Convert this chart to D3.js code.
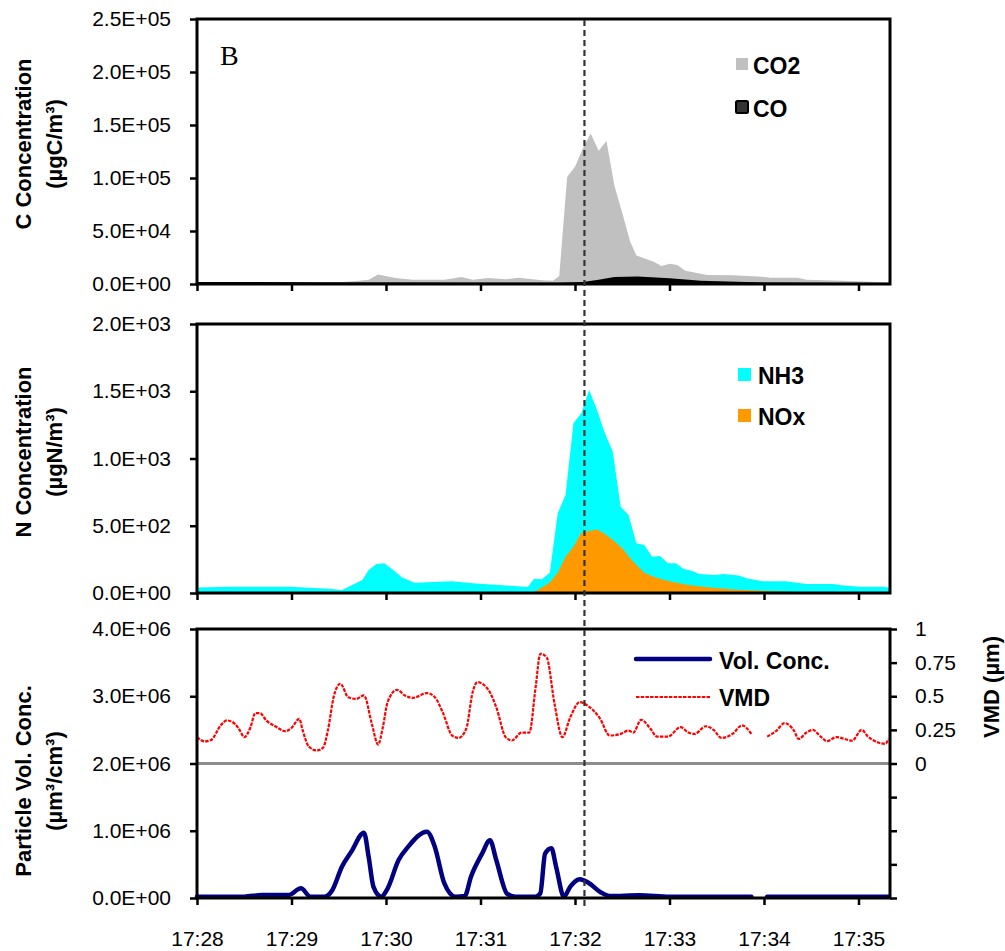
<!DOCTYPE html>
<html>
<head>
<meta charset="utf-8">
<script src="https://cdn.jsdelivr.net/npm/d3@7"></script>
<style>
  html, body { margin: 0; padding: 0; background: #fff; }
  svg { display: block; }
  text { font-family: "Liberation Sans", Arial, sans-serif; }
</style>
</head>
<body>
<svg id="chart" width="1005" height="951"></svg>
<script>
// ---------------- DATA (seconds after 17:28:00) ----------------
const tickTimes = [0, 60, 120, 180, 240, 300, 360, 420];
const tickLabels = ["17:28", "17:29", "17:30", "17:31", "17:32", "17:33", "17:34", "17:35"];
const markerTime = 246;

const co2Time = [0, 84, 100, 109, 115, 126, 137, 157, 168, 175, 185, 196, 204, 219, 226, 230, 235, 240, 245, 250, 255, 260, 265, 270, 275, 279, 290, 295, 300, 305, 310, 324, 340, 359, 364, 381, 387, 410, 440];
const co2Values = [1000, 1200, 2500, 4000, 9000, 5600, 4000, 4000, 6600, 4000, 5600, 4500, 6000, 3500, 3000, 7500, 101000, 110700, 128000, 142000, 125800, 135000, 93000, 67000, 40000, 27000, 21000, 17000, 19000, 18000, 12600, 8500, 8200, 6900, 6000, 6000, 4000, 3000, 1500];

const coTime = [0, 100, 230, 245, 255, 265, 280, 300, 320, 360, 400, 440];
const coValues = [2000, 1500, 1200, 2000, 4000, 6500, 7000, 5500, 3000, 1500, 1200, 1000];

const nh3Time = [0, 21, 59, 84, 92, 105, 109, 114, 119, 126, 130, 138, 162, 175, 208, 210, 214, 219, 224, 229, 234, 239, 244, 249, 254, 259, 264, 269, 274, 279, 284, 289, 294, 299, 304, 309, 314, 319, 329, 334, 344, 349, 359, 374, 387, 404, 409, 421, 436, 440];
const nh3Values = [40, 47, 47, 32, 22, 97, 171, 216, 221, 158, 117, 77, 87, 72, 47, 44, 106, 102, 151, 592, 729, 1262, 1336, 1509, 1361, 1187, 1051, 642, 580, 370, 357, 270, 275, 221, 221, 178, 166, 141, 134, 141, 131, 109, 87, 87, 67, 67, 57, 47, 47, 37];

const noxTime = [0, 100, 115, 140, 210, 214, 224, 229, 234, 239, 244, 250, 254, 259, 264, 270, 275, 279, 284, 290, 295, 300, 311, 324, 343, 364, 385, 440];
const noxValues = [0, 2, 6, 4, 2, 5, 79, 151, 270, 344, 448, 463, 473, 439, 394, 332, 258, 208, 151, 121, 102, 87, 62, 42, 25, 15, 5, 2];

const vmdTime = [0, 5, 9, 15, 19, 24, 27, 30, 34, 37, 40, 44, 50, 56, 60, 65, 67, 71, 76, 80, 83, 87, 91, 96, 101, 106, 111, 115, 118, 121, 127, 132, 137, 146, 151, 156, 162, 166, 171, 175, 178, 185, 190, 196, 200, 206, 211, 215, 218, 222, 227, 232, 237, 243, 248, 256, 262, 269, 274, 277, 282, 288, 292, 299, 307, 312, 316, 323, 328, 333, 340, 346, 352, 357, 362, 368, 373, 379, 382, 387, 391, 396, 400, 406, 416, 422, 426, 432, 437, 439];
const vmdValues = [0.196, 0.164, 0.175, 0.283, 0.32, 0.295, 0.25, 0.196, 0.27, 0.374, 0.374, 0.32, 0.275, 0.24, 0.265, 0.332, 0.25, 0.126, 0.097, 0.117, 0.24, 0.506, 0.593, 0.493, 0.48, 0.506, 0.295, 0.141, 0.27, 0.456, 0.548, 0.506, 0.488, 0.523, 0.493, 0.381, 0.208, 0.19, 0.26, 0.53, 0.605, 0.548, 0.419, 0.196, 0.171, 0.23, 0.23, 0.567, 0.816, 0.79, 0.444, 0.196, 0.344, 0.456, 0.43, 0.332, 0.208, 0.22, 0.245, 0.23, 0.325, 0.257, 0.2, 0.2, 0.27, 0.23, 0.22, 0.277, 0.25, 0.19, 0.22, 0.283, 0.22, null, 0.2, 0.245, 0.3, 0.245, 0.183, 0.23, 0.25, 0.2, 0.166, 0.196, 0.17, 0.25, 0.2, 0.158, 0.146, 0.183];

const volTime = [0, 30, 41, 58, 66, 72, 81, 86, 92, 98, 106, 109, 112, 117, 121, 128, 134, 146, 151, 157, 164, 170, 174, 181, 186, 190, 197, 202, 215, 218, 221, 225, 228, 233, 237, 243, 249, 256, 262, 281, 300, 352, 357, 362, 439];
const volValues = [20000, 20000, 45000, 45000, 144000, 20000, 20000, 120000, 465000, 690000, 970000, 610000, 170000, 20000, 140000, 565000, 760000, 986000, 760000, 220000, 20000, 30000, 320000, 660000, 860000, 565000, 60000, 20000, 20000, 70000, 660000, 740000, 465000, 20000, 170000, 280000, 220000, 90000, 30000, 40000, 20000, 20000, null, 20000, 20000];

const cTicks = [0, 50000, 100000, 150000, 200000, 250000];
const nTicks = [0, 500, 1000, 1500, 2000];
const pTicks = [0, 1000000, 2000000, 3000000, 4000000];
const vmdTicks = [-1, -0.75, -0.5, -0.25, 0, 0.25, 0.5, 0.75, 1];
const vmdTickLabels = ["", "", "", "", "0", "0.25", "0.5", "0.75", "1"];

// ---------------- LAYOUT ----------------
const svg = d3.select("#chart");
const X0 = 197, X1 = 890;
const TICK_FS = 21, TITLE_FS = 22, LEG_FS = 23;
const panels = [
  { top: 19, bottom: 284 },
  { top: 324, bottom: 593 },
  { top: 629, bottom: 898 }
];
const x = d3.scaleLinear().domain([0, 440]).range([X0, X1]);

function fmtE(v) {
  if (v === 0) return "0.0E+00";
  const e = Math.floor(Math.log10(v) + 1e-9);
  const m = v / Math.pow(10, e);
  return m.toFixed(1) + "E+" + String(e).padStart(2, "0");
}

const zip = (t, v) => t.map((d, i) => ({ t: d, v: v[i] }));

function styleAxis(g, fs) {
  g.select(".domain").remove();
  g.selectAll(".tick line").attr("stroke", "#000").attr("stroke-width", 2.5);
  g.selectAll(".tick text").attr("fill", "#000").style("font-size", fs + "px")
    .style("font-family", '"Liberation Sans", Arial, sans-serif');
}

function drawLeftAxis(y, ticks) {
  const g = svg.append("g").attr("transform", `translate(${X0},0)`)
    .call(d3.axisLeft(y).tickValues(ticks).tickFormat(fmtE).tickSize(7).tickPadding(19));
  styleAxis(g, TICK_FS);
}

function drawXAxis(p, labels) {
  const g = svg.append("g").attr("transform", `translate(0,${p.bottom})`)
    .call(d3.axisBottom(x).tickValues(tickTimes)
      .tickFormat((d, i) => labels ? tickLabels[i] : "").tickSize(7).tickPadding(26));
  styleAxis(g, TICK_FS);
}

function drawFrame(p) {
  svg.append("rect").attr("x", X0).attr("y", p.top)
    .attr("width", X1 - X0).attr("height", p.bottom - p.top)
    .attr("fill", "none").attr("stroke", "#000").attr("stroke-width", 3);
}

function yTitle(lines, cx, cy) {
  const t = svg.append("text")
    .attr("transform", `translate(${cx},${cy}) rotate(-90)`)
    .attr("text-anchor", "middle")
    .style("font-size", TITLE_FS + "px").style("font-weight", "bold");
  lines.forEach((l, i) => {
    t.append("tspan").attr("x", 0).attr("dy", i === 0 ? 0 : 31).text(l);
  });
}

// ---------------- PANEL 1: Carbon ----------------
{
  const p = panels[0];
  const y = d3.scaleLinear().domain([0, 250000]).range([p.bottom, p.top]);
  const area = d3.area().x(d => x(d.t)).y0(y(0)).y1(d => y(d.v));
  svg.append("path").datum(zip(co2Time, co2Values)).attr("d", area).attr("fill", "#c0c0c0");
  svg.append("path").datum(zip(coTime, coValues)).attr("d", area).attr("fill", "#000");
  drawFrame(p);
  drawLeftAxis(y, cTicks);
  drawXAxis(p, false);
  yTitle(["C Concentration", "(\u00b5gC/m\u00b3)"], 31, 144);
  svg.append("text").attr("x", 220).attr("y", 65)
    .style("font-family", '"Liberation Serif", "Times New Roman", serif')
    .style("font-size", "28px").text("B");
  const lg = [
    { name: "CO2", fill: "#c0c0c0", stroke: "none", y: 58, by: 74 },
    { name: "CO", fill: "#333", stroke: "#000", y: 101, by: 117 }
  ];
  lg.forEach(d => {
    svg.append("rect").attr("x", 736).attr("y", d.y).attr("width", 12).attr("height", 12)
      .attr("fill", d.fill).attr("stroke", d.stroke).attr("stroke-width", 2).attr("rx", d.stroke === "none" ? 0 : 1.5);
    svg.append("text").attr("x", 753).attr("y", d.by).style("font-size", LEG_FS + "px")
      .style("font-weight", "bold").text(d.name);
  });
}

// ---------------- PANEL 2: Nitrogen ----------------
{
  const p = panels[1];
  const y = d3.scaleLinear().domain([0, 2000]).range([p.bottom, p.top]);
  const area = d3.area().x(d => x(d.t)).y0(y(0)).y1(d => y(d.v));
  svg.append("path").datum(zip(nh3Time, nh3Values)).attr("d", area).attr("fill", "#00ffff");
  svg.append("path").datum(zip(noxTime, noxValues)).attr("d", area).attr("fill", "#ff9900");
  drawFrame(p);
  drawLeftAxis(y, nTicks);
  drawXAxis(p, false);
  yTitle(["N Concentration", "(\u00b5gN/m\u00b3)"], 31, 452);
  const lg = [
    { name: "NH3", fill: "#00ffff", y: 368, by: 384 },
    { name: "NOx", fill: "#ff9900", y: 409, by: 425 }
  ];
  lg.forEach(d => {
    svg.append("rect").attr("x", 738).attr("y", d.y).attr("width", 13).attr("height", 13).attr("fill", d.fill);
    svg.append("text").attr("x", 758).attr("y", d.by).style("font-size", LEG_FS + "px")
      .style("font-weight", "bold").text(d.name);
  });
}

// ---------------- PANEL 3: Particles ----------------
{
  const p = panels[2];
  const y = d3.scaleLinear().domain([0, 4000000]).range([p.bottom, p.top]);
  const yR = d3.scaleLinear().domain([-1, 1]).range([p.bottom, p.top]);
  svg.append("line").attr("x1", X0).attr("x2", X1).attr("y1", yR(0)).attr("y2", yR(0))
    .attr("stroke", "#8c8c8c").attr("stroke-width", 3);
  const vmdLine = d3.line().defined(d => d.v !== null).x(d => x(d.t)).y(d => yR(d.v))
    .curve(d3.curveMonotoneX);
  svg.append("path").datum(zip(vmdTime, vmdValues)).attr("d", vmdLine)
    .attr("fill", "none").attr("stroke", "#ff0000").attr("stroke-width", 2.2)
    .attr("stroke-dasharray", "3.5,1.2");
  const volLine = d3.line().defined(d => d.v !== null).x(d => x(d.t)).y(d => y(d.v))
    .curve(d3.curveMonotoneX);
  svg.append("path").datum(zip(volTime, volValues)).attr("d", volLine)
    .attr("fill", "none").attr("stroke", "#000080").attr("stroke-width", 4.5)
    .attr("stroke-linejoin", "round").attr("stroke-linecap", "round");
  drawFrame(p);
  drawLeftAxis(y, pTicks);
  drawXAxis(p, true);
  const gR = svg.append("g").attr("transform", `translate(${X1},0)`)
    .call(d3.axisRight(yR).tickValues(vmdTicks).tickFormat((d, i) => vmdTickLabels[i])
      .tickSize(7).tickPadding(18));
  styleAxis(gR, TICK_FS);
  yTitle(["Particle Vol. Conc.", "(\u00b5m\u00b3/cm\u00b3)"], 31, 781);
  svg.append("text").attr("transform", `translate(999,687) rotate(-90)`)
    .attr("text-anchor", "middle").style("font-size", TITLE_FS + "px").style("font-weight", "bold")
    .text("VMD (\u00b5m)");
  const lg = [
    { name: "Vol. Conc.", color: "#000080", w: 4.5, dash: null, y: 659, by: 669 },
    { name: "VMD", color: "#ff0000", w: 2.2, dash: "3.5,1.2", y: 697, by: 706 }
  ];
  lg.forEach(d => {
    svg.append("line").attr("x1", 636).attr("x2", 710).attr("y1", d.y).attr("y2", d.y)
      .attr("stroke", d.color).attr("stroke-width", d.w).attr("stroke-linecap", d.dash ? "butt" : "round")
      .attr("stroke-dasharray", d.dash);
    svg.append("text").attr("x", 719).attr("y", d.by).style("font-size", LEG_FS + "px")
      .style("font-weight", "bold").text(d.name);
  });
}

// ---------------- Vertical marker ----------------
svg.append("line").attr("x1", x(markerTime)).attr("x2", x(markerTime))
  .attr("y1", 20).attr("y2", 910)
  .attr("stroke", "#333").attr("stroke-width", 2.2).attr("stroke-dasharray", "6,4");
</script>
</body>
</html>
